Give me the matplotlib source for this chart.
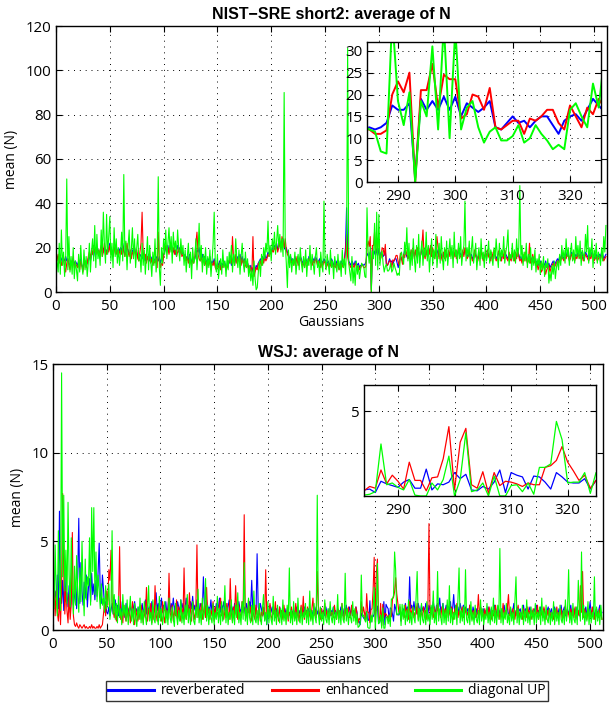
import numpy as np
import matplotlib
matplotlib.use('Agg')
import matplotlib.pyplot as plt

plt.rcParams['font.family'] = ['Open Sans', 'DejaVu Sans']

series_names = ['reverberated', 'enhanced', 'diagonal UP']
series_colors = ['#0000ff', '#ff0000', '#00ff00']

# ---------------- NIST-SRE short2 (top panel) ----------------
# Gaussians 0..284
nist_rev_a = [
    17,16,15,14,16,15,13,15,14,16,14,15,13,12,14,13,15,12,14,13,
    12,14,13,15,12,11,13,14,12,13,15,16,14,17,18,16,19,18,20,19,
    18,17,19,21,18,20,17,19,18,20,22,19,17,18,20,19,21,18,17,19,
    20,18,22,19,17,18,20,19,17,18,16,19,18,20,17,18,16,15,17,16,
    15,17,16,14,16,15,17,14,16,15,13,15,14,16,15,14,16,13,15,14,
    17,18,20,19,21,18,20,22,19,18,20,17,19,21,18,20,19,17,18,16,
    17,15,16,14,17,15,13,16,14,15,17,19,18,20,16,15,17,14,16,15,
    13,15,14,16,12,14,13,15,12,11,13,12,14,11,13,12,14,13,11,12,
    14,13,15,12,14,16,13,15,14,16,15,17,14,16,13,15,14,12,13,11,
    10,12,9,11,8,10,12,11,13,14,15,13,16,14,17,15,16,18,17,19,
    18,20,19,21,20,22,19,21,23,20,22,24,21,19,20,18,17,15,16,14,
    15,13,16,14,15,13,14,16,15,13,14,12,15,14,13,16,15,14,13,15,
    14,16,15,13,14,15,12,14,13,15,14,12,13,14,12,13,15,14,12,13,
    12,14,13,11,12,14,13,12,15,20,38,18,14,13,12,14,13,12,14,13,
    12,13,11,12,12]
# Gaussians 285..325 (inset range)
nist_rev_zoom = [12.5,12,12.5,13.5,17.5,16.5,16.5,18,1,19,16.5,18.5,16.5,19.5,16.5,
                 19.5,15,18,17,16,17,18.5,12.5,12,13.5,15,13.5,14,12.5,14,15,15,13,
                 11,14,15,15.5,14,16.5,19,17.5]
# Gaussians 326..511
nist_rev_b = [
    16,15,17,16,18,17,19,16,18,17,19,18,16,17,19,18,17,16,18,17,
    19,18,20,17,19,18,16,18,17,19,16,18,17,15,17,16,18,17,16,18,
    17,19,18,16,17,18,16,17,19,18,17,16,18,17,19,18,16,17,18,16,
    17,15,16,18,17,16,15,17,16,18,17,15,16,17,16,18,17,16,15,17,
    16,18,17,15,16,17,18,16,15,17,16,18,17,16,15,17,16,15,17,16,
    15,17,16,18,17,15,16,14,16,15,17,16,14,15,16,14,15,16,14,15,
    13,14,12,13,14,12,11,13,12,14,11,12,13,11,12,13,14,12,13,14,
    15,14,16,15,17,16,15,17,16,18,17,15,16,18,17,16,15,17,16,18,
    17,16,18,17,15,16,18,17,16,15,17,16,18,17,15,16,17,15,16,17,
    16,18,17,15,16,17]

nist_enh_a = [
    16,14,17,13,15,12,14,16,11,9,13,15,12,10,14,12,16,11,13,12,
    11,13,10,14,12,9,12,14,11,13,16,18,15,19,17,21,18,20,17,19,
    17,19,21,16,18,22,19,17,20,18,21,17,19,16,18,21,17,19,16,18,
    19,17,21,18,16,19,22,18,16,19,15,18,17,20,16,19,15,14,18,22,
    36,18,15,17,13,16,14,17,13,15,12,14,13,15,11,27,14,11,13,12,
    16,19,21,18,20,17,21,19,18,20,17,19,16,18,20,17,19,16,17,15,
    15,14,16,13,15,14,12,15,13,16,22,27,17,15,14,16,13,15,12,14,
    11,14,12,15,10,13,12,14,11,10,12,11,13,10,12,11,13,12,10,11,
    12,14,16,13,25,15,12,17,13,15,14,16,12,15,13,14,12,11,13,10,
    9,11,8,25,7,9,11,10,13,12,14,12,15,13,16,14,15,17,16,18,
    17,19,18,20,19,21,18,20,22,19,25,23,20,24,19,17,16,14,15,13,
    14,12,15,13,16,12,13,15,14,12,13,11,14,13,12,15,14,13,12,14,
    13,15,14,12,13,14,11,13,12,14,13,11,12,13,11,12,14,13,11,12,
    11,13,12,10,11,13,12,11,14,18,26,16,13,12,11,13,12,11,13,12,
    11,12,10,11,12]
nist_enh_zoom = [12,11,11,11.8,20,23,20.5,25,0,21,21,27,17,24.5,23.5,23.5,14.5,15.5,
                 20,19.5,16.5,21.5,12.5,12,13,14,14,11,14.5,14,15,16.5,16.5,13.5,12,
                 17.5,15,12.5,17,15.5,19]
nist_enh_b = [
    17,15,18,16,19,17,20,15,19,16,20,18,15,17,21,28,17,15,19,16,
    20,17,21,16,20,17,15,19,25,20,15,19,16,14,18,15,19,16,15,19,
    16,20,17,15,16,19,15,16,20,17,16,15,19,16,20,17,15,16,19,15,
    16,14,15,19,16,15,14,18,15,19,16,14,15,18,15,19,16,15,14,18,
    15,19,16,14,15,18,19,15,14,18,15,19,16,15,14,18,15,14,18,15,
    14,18,15,19,16,14,15,13,17,14,18,15,13,14,22,13,14,17,13,14,
    12,13,10,12,13,9,10,12,11,8,10,11,12,9,11,12,13,11,12,13,
    14,13,15,14,16,15,14,16,15,17,16,14,15,17,16,15,14,16,15,17,
    16,15,17,16,14,15,17,16,15,14,16,15,17,16,14,15,16,14,15,16,
    15,17,16,14,15,16]

nist_diag_a = [
    20,14,9,22,8,28,12,18,7,15,51,10,25,9,16,8,20,6,14,10,
    5,17,9,21,12,8,19,10,16,7,13,22,9,18,24,14,30,11,26,15,
    19,12,28,16,36,21,13,35,17,25,34,14,22,11,29,16,24,13,20,12,
    18,27,14,53,16,23,10,21,28,13,19,29,15,24,11,20,26,14,17,9,
    22,12,19,8,16,25,10,21,14,7,18,12,24,9,15,52,11,3,20,13,
    24,17,28,15,22,29,18,25,13,27,19,23,16,28,20,14,24,17,21,12,
    19,9,16,22,11,18,6,20,13,15,24,10,18,31,14,21,9,17,12,20,
    8,16,11,19,7,14,22,36,13,9,17,6,12,15,8,19,11,14,7,16,
    10,18,13,21,9,17,12,24,15,11,19,8,16,22,13,9,18,11,15,7,
    12,5,10,3,14,6,1,2,9,14,7,17,12,20,15,22,18,32,16,21,
    14,24,19,27,17,23,30,20,26,18,24,16,90,22,13,2,19,11,17,9,
    15,12,18,8,14,17,10,20,13,9,16,11,19,7,15,12,21,10,17,13,
    8,16,20,11,14,7,18,12,9,41,15,10,17,13,8,19,11,14,6,16,
    12,9,17,10,14,7,19,11,15,8,20,110,13,9,5,16,4,11,3,14,
    8,12,6,10,13]
nist_diag_zoom = [12,11.5,7,6.5,38,18.5,13,20.5,0,18.5,15,31,12,36,10,35,12,17,18.5,
                  12.5,9,11.5,12.5,9.5,9.5,10.5,13,9,10,13,11,9.5,7.5,8.5,7.5,16.5,
                  18,15,12.5,22.5,17]
nist_diag_b = [
    29,14,22,10,19,12,24,15,9,21,13,26,11,18,23,12,20,16,27,14,
    21,9,17,24,12,19,15,26,11,18,22,13,25,16,10,20,14,23,12,18,
    24,15,21,11,27,16,19,13,22,15,25,12,18,21,41,14,20,16,23,12,
    19,25,13,17,22,10,16,20,12,24,15,18,11,21,14,17,23,13,19,16,
    12,20,15,24,17,11,22,14,19,16,25,13,18,21,28,12,17,15,22,14,
    19,13,24,16,20,48,15,21,12,18,14,22,11,17,13,20,10,16,12,19,
    9,15,12,17,8,14,10,16,7,13,11,15,4,9,5,12,8,14,6,11,
    14,10,17,12,21,15,19,13,24,16,20,12,18,22,14,19,13,25,16,21,
    15,23,12,19,17,14,26,18,30,13,20,16,24,11,19,15,22,13,18,16,
    12,20,14,25,18,30]

# ---------------- WSJ (bottom panel) ----------------
# Gaussians 0..283
wsj_rev_a = [
    2.6,1.4,2.2,1.8,3.1,1.2,6.7,2.0,1.5,2.8,1.1,3.4,1.6,2.1,1.3,2.5,1.0,1.8,2.3,1.4,
    1.9,2.6,1.2,3.0,6.3,1.5,3.8,2.2,1.4,2.7,1.8,3.1,1.3,2.4,2.9,1.6,3.2,2.0,2.6,1.7,
    2.8,1.9,3.3,4.9,2.1,1.5,3.1,2.3,1.2,1.6,1.0,0.9,1.3,0.8,1.1,1.5,0.9,1.2,1.7,1.0,
    1.4,0.8,1.2,1.6,0.9,1.3,1.1,0.7,1.5,1.0,1.2,0.8,1.4,1.1,0.9,1.3,1.6,1.0,1.2,0.9,
    1.3,1.1,0.8,1.5,1.0,1.2,1.7,0.9,1.4,1.1,1.3,0.8,1.6,1.2,1.0,1.4,2.1,1.1,1.5,0.9,
    1.2,1.8,1.0,1.4,1.1,1.6,0.9,1.3,1.9,1.0,1.5,1.2,1.8,1.1,1.4,0.9,1.6,1.3,1.0,1.7,
    1.2,1.5,0.9,1.3,1.8,1.1,1.4,1.0,1.6,1.2,1.9,1.1,1.4,0.9,1.7,1.2,1.0,1.5,1.3,1.1,
    3.0,1.4,1.2,1.6,0.9,1.3,1.1,1.7,1.0,1.4,1.2,0.9,1.5,1.1,1.3,1.8,1.0,1.4,1.2,1.6,
    1.1,1.5,0.9,1.3,1.7,1.0,1.4,1.2,0.8,1.5,1.1,1.3,0.9,1.6,1.2,1.0,1.4,1.1,1.3,0.9,
    1.5,1.2,1.0,1.6,1.3,2.8,1.1,1.4,1.2,0.9,4.3,1.3,1.0,1.5,1.2,0.8,1.1,0.7,0.9,0.3,
    1.2,0.8,1.4,1.0,1.3,0.9,1.1,0.7,1.2,1.0,0.8,1.3,0.9,1.1,0.7,1.0,1.2,0.8,1.1,0.9,
    1.0,0.8,1.2,0.9,1.1,0.7,1.0,1.3,0.8,1.1,0.9,1.2,0.8,1.0,1.3,0.9,1.1,0.8,1.2,1.0,
    0.9,1.1,0.8,1.2,1.0,1.3,0.9,1.1,0.8,1.0,1.2,0.9,1.1,0.8,1.3,1.0,0.9,1.2,0.8,1.1,
    1.0,1.3,0.9,1.1,0.8,1.2,1.0,0.9,1.3,1.1,0.8,1.2,1.0,1.4,0.9,1.1,1.3,0.8,1.2,1.0,
    1.1,0.9,1.3,1.0]
# Gaussians 284..325 (inset range)
wsj_rev_zoom = [0.45,0.5,0.3,0.95,0.8,0.7,0.6,0.9,1.05,0.55,0.55,1.65,0.45,0.8,0.75,
                0.9,1.45,1.1,1.35,0.45,0.4,0.65,0.5,0.9,1.6,0.3,1.45,1.3,1.2,0.5,1.25,
                1.2,0.9,0.5,1.45,1.2,0.9,0.85,0.85,1.1,0.5,1.0]
# Gaussians 326..511
wsj_rev_b = [
    1.2,1.0,1.5,1.1,1.3,0.9,3.0,1.2,1.4,1.0,1.6,1.1,1.3,0.9,1.5,1.2,1.0,1.4,1.1,1.3,
    1.0,1.5,1.2,0.9,1.4,1.1,1.3,1.0,1.6,1.2,0.9,1.4,1.1,1.3,1.8,1.0,1.2,1.5,0.9,1.1,
    1.4,1.0,1.3,1.1,1.6,0.9,1.2,2.0,1.0,1.4,1.1,1.3,0.9,1.5,1.2,1.0,1.4,1.1,1.3,0.9,
    1.2,1.0,1.4,1.1,0.8,1.3,1.0,0.7,1.2,0.9,1.1,0.8,1.3,1.0,0.9,1.2,0.8,1.1,0.9,1.3,
    1.0,0.8,1.2,0.9,1.1,1.4,0.8,1.0,1.3,0.9,1.1,0.8,1.2,1.0,1.4,0.9,1.1,1.3,0.8,1.0,
    1.2,0.9,1.1,1.5,0.8,1.0,1.3,0.9,1.1,1.2,0.8,1.0,1.4,0.9,1.2,1.0,0.8,1.1,1.3,0.9,
    1.1,0.8,1.2,1.0,1.4,0.9,1.1,0.8,1.3,1.0,0.9,1.2,1.0,0.8,1.1,1.3,0.9,1.0,1.2,0.8,
    1.0,1.3,0.9,1.1,0.8,1.2,1.0,1.4,0.9,1.1,1.3,0.8,1.0,1.2,0.9,1.1,1.4,0.8,1.0,1.2,
    0.9,1.1,1.3,1.0,0.8,1.2,1.5,0.9,1.1,1.0,1.3,0.8,1.2,1.0,1.6,0.9,1.1,1.3,0.8,1.0,
    1.2,0.9,1.1,1.4,0.8,1.0]

wsj_enh_a = [
    1.5,2.6,0.8,2.2,1.0,0.5,1.8,0.3,2.5,7.7,3.2,0.9,2.4,1.1,0.4,2.0,0.6,1.5,5.5,0.8,
    0.3,0.2,0.4,0.2,0.1,0.3,0.2,0.1,0.2,0.3,0.1,0.2,0.1,0.1,0.2,0.1,0.3,0.1,0.2,0.1,
    0.1,0.2,0.1,0.3,0.1,0.2,0.3,0.9,1.5,0.8,2.2,1.4,3.4,2.8,4.5,1.6,1.1,0.7,1.3,0.5,
    0.9,1.2,4.7,0.6,1.0,0.4,1.4,0.8,0.5,1.1,0.7,1.3,0.4,0.9,1.6,0.6,0.3,1.2,0.8,0.5,
    1.0,0.6,1.4,0.9,0.4,1.1,0.7,2.4,0.5,1.2,0.8,1.5,0.4,1.0,0.6,2.5,0.9,0.5,1.3,0.7,
    1.1,0.5,1.6,0.8,0.4,1.2,0.9,0.6,3.2,1.0,0.7,1.4,0.5,1.1,0.8,1.7,0.6,1.3,0.9,0.5,
    1.2,0.7,3.5,1.0,0.6,1.4,0.8,2.1,1.1,0.5,1.6,0.9,0.6,1.3,4.8,0.7,1.2,0.8,1.5,0.6,
    1.0,1.4,0.7,2.4,0.9,1.2,0.6,1.1,0.8,1.6,0.5,1.3,0.9,1.0,0.7,1.4,1.8,0.8,1.2,0.6,
    1.1,0.7,1.5,0.9,0.6,2.9,1.0,0.5,1.3,0.8,2.5,1.1,0.6,1.4,0.9,0.7,1.6,1.0,6.5,0.8,
    1.2,0.6,1.7,0.9,1.3,0.5,1.1,0.8,0.6,1.4,0.9,0.7,1.2,0.5,1.0,0.8,1.3,0.6,3.4,0.9,
    1.1,0.7,1.5,0.8,0.6,1.2,0.9,1.6,0.7,1.0,0.5,1.3,0.8,1.1,0.6,1.4,0.9,0.7,1.2,0.5,
    1.0,0.8,1.3,0.6,1.1,0.9,1.5,0.7,1.2,0.5,1.0,1.4,0.8,1.9,0.6,1.1,0.9,1.3,0.7,1.0,
    0.6,1.2,1.8,0.8,1.1,0.7,3.3,1.4,0.9,0.6,1.2,0.8,1.0,1.5,0.7,1.1,0.9,0.6,1.3,0.8,
    1.0,0.7,1.4,0.9,0.6,1.2,0.8,1.1,0.7,1.5,0.9,0.6,1.2,0.8,1.0,1.3,0.7,0.9,1.4,0.8,
    1.1,0.7,1.3,0.9]
wsj_enh_zoom = [0.4,0.65,0.55,1.6,0.8,1.3,0.95,0.5,2.05,1.0,1.0,0.4,1.15,1.2,2.25,4.1,
                0.45,3.2,4.0,0.75,0.55,1.5,0.25,1.45,0.7,0.95,0.9,0.8,0.65,0.85,0.75,
                0.75,1.75,1.85,2.15,2.95,2.05,1.55,1.0,1.3,0.55,1.0]
wsj_enh_b = [
    1.0,0.7,1.4,0.9,1.2,0.6,1.6,0.8,1.1,1.3,0.7,1.0,0.9,1.5,0.6,1.2,0.8,1.0,0.7,1.3,
    0.9,1.1,0.6,1.4,6.0,0.8,1.2,0.9,0.7,1.3,1.0,0.8,1.5,0.9,1.1,0.7,1.3,1.0,0.8,1.2,
    0.9,1.4,0.7,1.1,0.8,1.3,1.0,0.6,1.2,0.9,1.5,0.7,1.1,0.8,1.0,1.3,0.7,0.9,1.2,0.8,
    1.0,0.7,1.4,0.9,0.6,1.1,0.8,1.2,0.7,1.0,2.0,0.8,1.3,0.9,1.1,0.6,1.2,0.8,1.0,0.7,
    1.3,0.9,0.6,1.1,0.8,1.0,1.4,0.7,0.9,1.2,0.6,1.0,0.8,1.5,0.7,1.1,0.9,1.3,2.0,0.8,
    1.0,0.7,1.2,0.9,0.6,1.1,0.8,1.4,0.7,1.0,0.9,0.6,1.2,0.8,1.0,0.7,1.3,0.9,1.1,0.6,
    0.8,1.2,0.7,1.0,0.9,1.4,0.6,1.1,0.8,1.0,0.7,1.3,0.9,0.6,1.1,0.8,1.2,0.7,1.0,0.9,
    0.6,1.1,0.8,1.3,0.7,1.0,0.9,1.2,0.6,1.0,0.8,1.4,0.7,1.1,0.9,0.6,1.2,0.8,1.0,0.7,
    1.3,0.9,0.6,1.1,0.8,2.5,1.0,3.3,0.7,1.2,0.9,0.6,1.1,0.8,1.0,0.7,1.3,0.9,0.6,1.1,
    0.8,1.0,0.7,1.2,0.9,0.6]

wsj_diag_a = [
    3.3,1.2,4.8,2.0,0.8,5.6,2.7,1.1,14.5,3.0,7.6,2.2,4.5,1.5,7.2,3.1,1.3,5.2,2.4,0.9,
    3.6,1.4,4.2,2.0,1.0,3.5,1.6,5.0,2.3,0.8,4.0,1.7,3.0,2.5,5.2,1.4,6.9,3.3,6.9,2.0,
    4.4,1.6,3.1,2.2,1.2,2.6,1.4,1.8,1.0,2.5,1.2,1.7,2.6,0.6,1.3,5.6,0.9,2.0,0.6,1.5,
    0.4,1.9,0.7,1.2,0.3,2.0,0.8,1.4,0.5,1.7,0.3,1.0,1.9,0.5,1.2,0.3,1.5,0.7,0.2,1.3,
    0.6,1.8,0.4,1.1,0.3,1.6,0.8,0.3,1.3,2.5,0.5,1.0,0.3,1.7,0.6,0.4,1.4,0.8,0.3,1.9,
    0.5,1.2,0.3,0.9,1.6,0.4,1.1,0.3,1.8,0.7,0.4,1.3,0.6,0.2,1.5,0.8,0.3,1.1,0.5,1.7,
    0.4,1.0,0.3,1.4,0.6,2.0,0.4,1.2,0.3,0.9,1.6,0.5,0.3,1.3,0.7,2.3,0.4,1.1,0.3,1.8,
    0.6,1.0,2.9,0.5,1.4,0.3,1.2,0.7,0.4,1.5,0.3,1.0,0.6,1.9,0.4,1.2,0.3,1.6,0.5,0.9,
    2.5,0.4,1.3,0.3,1.0,0.6,1.7,0.4,1.1,0.3,1.4,0.7,2.1,0.4,1.0,0.3,1.6,0.6,3.8,0.5,
    1.2,0.3,1.8,0.7,0.4,1.4,0.3,2.2,0.6,0.4,1.1,0.3,1.5,0.7,0.3,1.2,2.0,0.5,1.0,0.3,
    1.6,0.4,1.2,0.6,0.3,1.9,0.5,1.1,0.3,1.4,0.7,0.4,1.2,0.3,1.7,0.5,1.0,0.3,1.4,0.6,
    3.5,0.4,1.1,0.3,1.6,0.5,1.0,0.3,1.8,0.6,0.4,1.3,0.3,1.0,0.7,1.5,0.4,1.2,0.3,2.2,
    0.5,1.1,0.3,1.5,0.7,0.4,7.6,0.9,0.3,1.3,0.5,1.0,0.3,1.7,0.6,0.4,1.2,0.3,1.6,0.7,
    0.4,1.3,0.3,1.0,0.6,2.0,0.4,1.1,0.3,1.5,0.6,0.4,3.2,0.5,1.2,0.3,1.0,0.7,0.4,1.6,
    0.5,1.2,0.3,0.9]
wsj_diag_zoom = [0.15,0.2,0.35,3.1,0.75,0.85,0.6,0.45,1.05,0.15,0.1,0.1,0.85,0.45,1.05,
                 2.4,0.1,1.05,3.75,0.35,0.45,0.85,0.1,1.25,0.1,0.1,0.7,0.75,0.35,0.85,
                 0.2,1.75,1.75,1.95,4.4,3.35,0.85,0.9,0.9,1.45,0.25,1.45]
wsj_diag_b = [
    0.6,1.4,0.3,1.1,0.5,1.7,0.4,1.0,0.3,1.3,0.7,0.4,1.9,3.3,0.5,1.2,0.3,1.5,0.6,0.4,
    1.1,0.3,1.6,0.5,0.9,0.3,1.4,0.6,2.2,0.4,1.0,0.3,3.3,0.5,1.2,0.7,0.3,1.5,0.4,1.1,
    0.3,1.7,0.5,2.5,0.4,1.2,0.3,1.0,0.6,1.4,0.3,1.8,3.5,0.4,1.1,0.5,1.3,0.3,3.4,0.6,
    0.4,1.2,0.3,1.6,0.5,1.0,0.3,1.4,0.6,0.4,1.1,0.3,1.7,0.5,1.2,0.3,0.9,0.6,1.5,0.4,
    1.0,0.3,1.3,0.5,1.8,0.4,1.1,0.3,1.4,0.6,4.6,0.4,1.2,0.3,1.0,0.6,1.5,0.4,0.9,0.3,
    1.3,0.5,1.0,0.3,1.6,3.0,0.4,1.2,0.3,1.0,0.6,1.4,0.3,1.1,0.5,1.7,0.4,1.0,0.3,1.3,
    0.6,1.1,0.3,1.5,0.4,1.0,0.6,1.3,0.3,1.8,0.5,1.1,0.3,1.4,0.6,0.4,1.2,0.3,1.0,0.5,
    1.6,0.3,1.2,0.5,1.0,0.3,1.4,0.6,0.4,1.1,0.3,1.7,0.5,1.2,3.4,0.4,1.0,0.3,1.5,0.6,
    0.4,1.3,0.3,2.8,1.1,0.5,4.4,0.6,1.4,0.3,1.0,0.5,1.6,0.3,1.2,0.4,1.0,0.6,3.0,0.3,
    1.3,0.5,1.1,0.3,1.4,0.6]

x_ticks = list(range(0, 501, 50))
nist_yticks = list(range(0, 121, 20))
wsj_yticks = [0, 5, 10, 15]
nist_zoom_xticks = [290, 300, 310, 320]
nist_zoom_yticks = [0, 5, 10, 15, 20, 25, 30]
wsj_zoom_xticks = [290, 300, 310, 320]
wsj_zoom_yticks = [5]

nist = [nist_rev_a + nist_rev_zoom + nist_rev_b,
        nist_enh_a + nist_enh_zoom + nist_enh_b,
        nist_diag_a + nist_diag_zoom + nist_diag_b]
wsj = [wsj_rev_a + wsj_rev_zoom + wsj_rev_b,
       wsj_enh_a + wsj_enh_zoom + wsj_enh_b,
       wsj_diag_a + wsj_diag_zoom + wsj_diag_b]
for s in nist + wsj:
    assert len(s) == 512, [len(t) for t in nist + wsj]

FS = 10.8
TITLE_FONT = dict(fontsize=11.5, fontweight='bold', family=['Liberation Sans', 'DejaVu Sans'])
grid_kw = dict(color='black', linestyle=(0, (1, 5)), linewidth=0.7)


def style_axes(ax, xt, yt, xlim, ylim):
    ax.set_xlim(*xlim)
    ax.set_ylim(*ylim)
    ax.set_xticks(xt)
    ax.set_yticks(yt)
    ax.grid(True, **grid_kw)
    ax.tick_params(direction='in', top=True, right=True, length=4, width=0.8,
                   labelsize=FS, pad=3)
    ax.tick_params(axis='x', pad=5)
    for sp in ax.spines.values():
        sp.set_linewidth(1.0)
        sp.set_color('black')


fig = plt.figure(figsize=(6.10, 7.04), dpi=100)

# top main
ax1 = fig.add_axes([56/610, 1-292/704, 551/610, 266/704])
for s, c, n in zip(nist, series_colors, series_names):
    ax1.plot(np.arange(len(s)), s, color=c, lw=0.8, label=n)
style_axes(ax1, x_ticks, nist_yticks, (0, 512), (0, 120))
ax1.set_title('NIST\u2212SRE short2: average of N', pad=5, **TITLE_FONT)
ax1.set_xlabel('Gaussians', fontsize=FS - 0.8, labelpad=1)
ax1.set_ylabel('mean (N)', fontsize=FS - 0.8, labelpad=5)

# top inset
ax1i = fig.add_axes([367/610, 1-182/704, 234/610, 140/704])
for s, c in zip(nist, series_colors):
    ax1i.plot(np.arange(len(s)), s, color=c, lw=1.4)
style_axes(ax1i, nist_zoom_xticks, nist_zoom_yticks, (284.6, 325.4), (0, 32))

# bottom main
ax2 = fig.add_axes([53/610, 1-630/704, 550/610, 266/704])
for s, c in zip(wsj, series_colors):
    ax2.plot(np.arange(len(s)), s, color=c, lw=0.8)
style_axes(ax2, x_ticks, wsj_yticks, (0, 512), (0, 15))
ax2.set_title('WSJ: average of N', pad=5, **TITLE_FONT)
ax2.set_xlabel('Gaussians', fontsize=FS - 0.8, labelpad=1)
ax2.set_ylabel('mean (N)', fontsize=FS - 0.8, labelpad=5)

# bottom inset
ax2i = fig.add_axes([364/610, 1-496/704, 232/610, 111/704])
for s, c in zip(wsj, series_colors):
    ax2i.plot(np.arange(len(s)), s, color=c, lw=0.9)
style_axes(ax2i, wsj_zoom_xticks, wsj_zoom_yticks, (284, 325), (0.1, 6.5))

leg = fig.legend(handles=[plt.Line2D([], [], color=c, lw=2.2) for c in series_colors],
                 labels=series_names, loc='center', bbox_to_anchor=(327/610, 1-691/704),
                 ncol=3, fontsize=FS - 0.8, frameon=True, fancybox=False,
                 handlelength=3.3, columnspacing=1.9, handletextpad=0.5,
                 borderpad=0.15, borderaxespad=0)
leg.get_frame().set_edgecolor('black')
leg.get_frame().set_linewidth(1.0)

fig.savefig('out.png', dpi=100)
